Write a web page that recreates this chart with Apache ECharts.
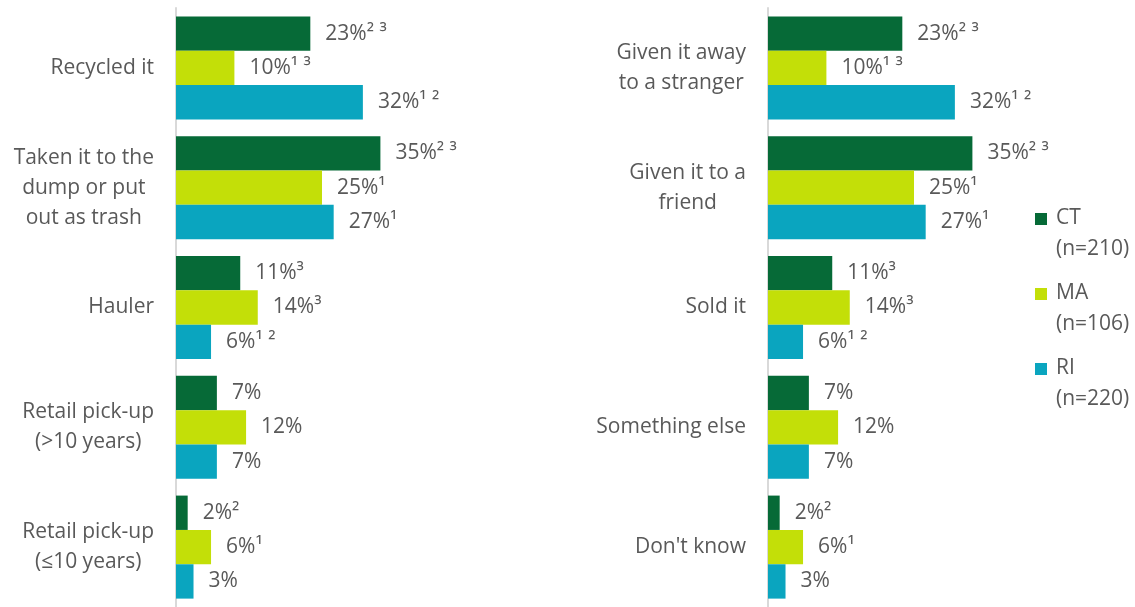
<!DOCTYPE html>
<html>
<head>
<meta charset="utf-8">
<script src="https://cdn.jsdelivr.net/npm/echarts@6/dist/echarts.min.js"></script>
<style>
  html, body { margin: 0; padding: 0; background: #ffffff; }
  #chart { width: 1135px; height: 607px; }
</style>
</head>
<body>
<div id="chart"></div>
<script>
// Disposal methods (left) and other outcomes (right), by state
const categoriesLeft = [
  'Recycled it',
  'Taken it to the\ndump or put\nout as trash',
  'Hauler',
  'Retail pick-up\n(>10 years)',
  'Retail pick-up\n(≤10 years)'
];
const categoriesRight = [
  'Given it away\nto a stranger',
  'Given it to a\nfriend',
  'Sold it',
  'Something else',
  "Don't know"
];

const seriesNames = ['CT', 'MA', 'RI'];
const sampleSizes = ['(n=210)', '(n=106)', '(n=220)'];
const colors = ['#066a37', '#c3df08', '#0aa5bf'];

// Percentages, left panel
const leftCT = [23, 35, 11, 7, 2];
const leftMA = [10, 25, 14, 12, 6];
const leftRI = [32, 27, 6, 7, 3];
// Significance notes, left panel
const leftNotesCT = ['² ³', '² ³', '³', '', '²'];
const leftNotesMA = ['¹ ³', '¹', '³', '', '¹'];
const leftNotesRI = ['¹ ²', '¹', '¹ ²', '', ''];

// Percentages, right panel
const rightCT = [23, 35, 11, 7, 2];
const rightMA = [10, 25, 14, 12, 6];
const rightRI = [32, 27, 6, 7, 3];
// Significance notes, right panel
const rightNotesCT = ['² ³', '² ³', '³', '', '²'];
const rightNotesMA = ['¹ ³', '¹', '³', '', '¹'];
const rightNotesRI = ['¹ ²', '¹', '¹ ²', '', ''];

const textColor = '#595959';
const fontFamily = '"Open Sans", "Noto Sans", sans-serif';
const fontSize = 21;

function makeSeries(name, values, notes, color, axisIndex) {
  return {
    name: name,
    type: 'bar',
    xAxisIndex: axisIndex,
    yAxisIndex: axisIndex,
    data: values,
    barGap: '0%',
    barCategoryGap: '14%',
    itemStyle: { color: color },
    label: {
      show: true,
      position: 'right',
      distance: 15,
      color: textColor,
      fontFamily: fontFamily,
      fontSize: fontSize,
      formatter: p => p.value + '%' + notes[p.dataIndex]
    },
    animation: false
  };
}

function categoryAxis(cats, gridIndex) {
  return {
    type: 'category',
    gridIndex: gridIndex,
    data: cats,
    inverse: true,
    axisLine: { show: true, lineStyle: { color: '#d9d9d9', width: 2 } },
    axisTick: { show: false },
    axisLabel: {
      margin: 22,
      align: 'right',
      color: textColor,
      fontFamily: fontFamily,
      fontSize: fontSize,
      lineHeight: 30,
      formatter: v => v.split('\n').map(l => '{c|' + l + '}').join('\n'),
      rich: {
        c: { align: 'center', color: textColor, fontFamily: fontFamily, fontSize: fontSize, lineHeight: 30 }
      }
    }
  };
}

function valueAxis(gridIndex) {
  return {
    type: 'value',
    gridIndex: gridIndex,
    min: 0,
    max: 50,
    show: false,
    splitLine: { show: false }
  };
}

// Legend drawn as square swatches with two-line captions
const legendGraphics = [];
seriesNames.forEach((n, i) => {
  const top = 203 + i * 75;
  legendGraphics.push({
    type: 'rect',
    left: 1035,
    top: top + 10,
    shape: { width: 12, height: 12 },
    style: { fill: colors[i] }
  });
  legendGraphics.push({
    type: 'text',
    left: 1056,
    top: top,
    style: {
      text: n + '\n' + sampleSizes[i],
      fill: textColor,
      font: fontSize + 'px ' + fontFamily,
      lineHeight: 31
    }
  });
});

const chart = echarts.init(document.getElementById('chart'));
chart.setOption({
  backgroundColor: '#ffffff',
  animation: false,
  grid: [
    { left: 176, top: 8, width: 292, height: 607 },
    { left: 768, top: 8, width: 292, height: 607 }
  ],
  xAxis: [valueAxis(0), valueAxis(1)],
  yAxis: [categoryAxis(categoriesLeft, 0), categoryAxis(categoriesRight, 1)],
  series: [
    makeSeries('CT', leftCT, leftNotesCT, colors[0], 0),
    makeSeries('MA', leftMA, leftNotesMA, colors[1], 0),
    makeSeries('RI', leftRI, leftNotesRI, colors[2], 0),
    makeSeries('CT', rightCT, rightNotesCT, colors[0], 1),
    makeSeries('MA', rightMA, rightNotesMA, colors[1], 1),
    makeSeries('RI', rightRI, rightNotesRI, colors[2], 1)
  ],
  graphic: legendGraphics
});
</script>
</body>
</html>
